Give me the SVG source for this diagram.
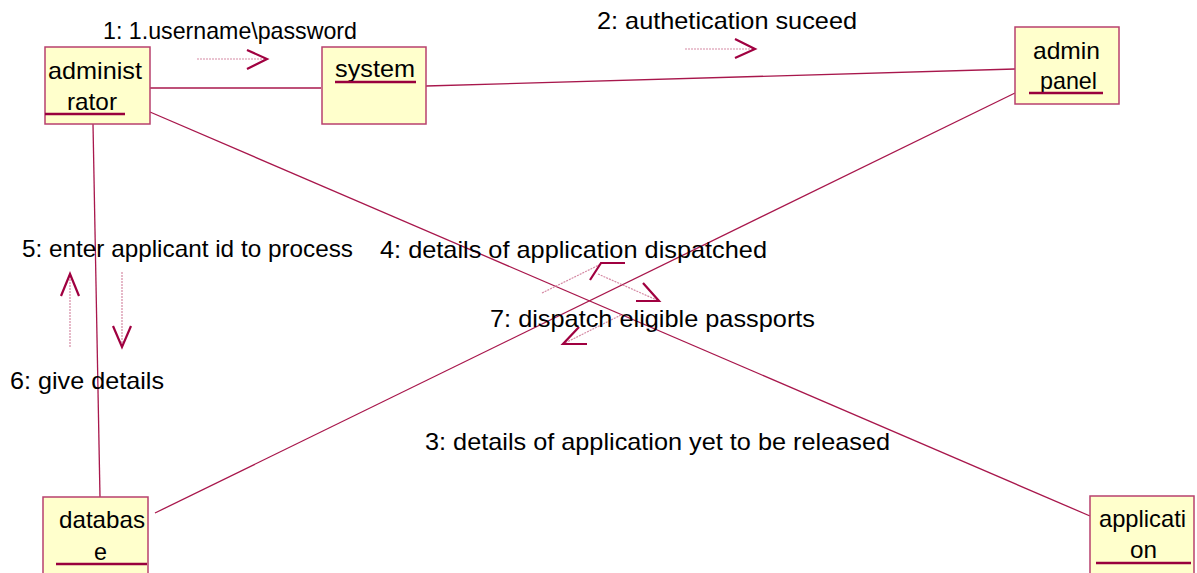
<svg xmlns="http://www.w3.org/2000/svg" width="1197" height="573" viewBox="0 0 1197 573">
<style>
.box{fill:#FFFFCC;stroke:#B8406E;stroke-width:1.5}
.ul{stroke:#99003D;stroke-width:2.5}
.t{font-family:"Liberation Sans",Arial,sans-serif;font-size:24px;fill:#000}
.link{stroke:#A8174C;stroke-width:1.3;fill:none}
.shaft{stroke:#D58AA4;stroke-width:1.2;stroke-dasharray:2 1;fill:none}
.head{stroke:#A00040;stroke-width:2.2;fill:none}
</style>
<rect width="1197" height="573" fill="#fff"/>
<g id="connectors">
<line class="link" x1="150" y1="88" x2="321" y2="88"/>
<line class="link" x1="426" y1="86" x2="1015" y2="69"/>
<line class="link" x1="93" y1="124" x2="100" y2="497"/>
<line class="link" x1="150" y1="112" x2="1090" y2="516"/>
<line class="link" x1="1015" y1="93" x2="155" y2="513"/>
</g>
<g id="messages">
<line class="shaft" x1="197" y1="59" x2="267" y2="59"/>
<polyline class="head" points="247,50 267,59 247,69"/>
<text class="t" x="103" y="39" textLength="254" lengthAdjust="spacingAndGlyphs">1: 1.username\password</text>
<line class="shaft" x1="685" y1="49" x2="755" y2="49"/>
<polyline class="head" points="735,39 755,49 735,58"/>
<text class="t" x="597" y="29" textLength="260" lengthAdjust="spacingAndGlyphs">2: authetication suceed</text>
<text class="t" x="425" y="450" textLength="465" lengthAdjust="spacingAndGlyphs">3: details of application yet to be released</text>
<line class="shaft" x1="542" y1="293" x2="601" y2="264"/>
<polyline class="head" points="625,263 601,263 590,280"/>
<line class="shaft" x1="598" y1="274" x2="659" y2="301"/>
<polyline class="head" points="643,283 659,301 636,301"/>
<text class="t" x="380" y="258" textLength="387" lengthAdjust="spacingAndGlyphs">4: details of application dispatched</text>
<line class="shaft" x1="621" y1="315" x2="563" y2="344"/>
<polyline class="head" points="579,327 563,344 587,344"/>
<text class="t" x="490" y="327" textLength="325" lengthAdjust="spacingAndGlyphs">7: dispatch eligible passports</text>
<line class="shaft" x1="70" y1="347" x2="70" y2="275"/>
<polyline class="head" points="61,296 70,274 79,296"/>
<line class="shaft" x1="122" y1="272" x2="122" y2="347"/>
<polyline class="head" points="113,326 122,347 131,326"/>
<text class="t" x="22" y="257" textLength="331" lengthAdjust="spacingAndGlyphs">5: enter applicant id to process</text>
<text class="t" x="10" y="389" textLength="154" lengthAdjust="spacingAndGlyphs">6: give details</text>
</g>
<g id="administrator">
<rect class="box" x="45" y="47" width="105" height="77"/>
<text class="t" x="48" y="79" textLength="94" lengthAdjust="spacingAndGlyphs">administ</text>
<text class="t" x="67" y="110" textLength="50" lengthAdjust="spacingAndGlyphs">rator</text>
<line class="ul" x1="45" y1="114" x2="125" y2="114"/>
</g>
<g id="system">
<rect class="box" x="322" y="47" width="104" height="77"/>
<text class="t" x="335" y="77" textLength="80" lengthAdjust="spacingAndGlyphs">system</text>
<line class="ul" x1="335" y1="82" x2="416" y2="82"/>
</g>
<g id="admin-panel">
<rect class="box" x="1015" y="27" width="104" height="77"/>
<text class="t" x="1033" y="59" textLength="67" lengthAdjust="spacingAndGlyphs">admin</text>
<text class="t" x="1040" y="89" textLength="57" lengthAdjust="spacingAndGlyphs">panel</text>
<line class="ul" x1="1029" y1="93" x2="1103" y2="93"/>
</g>
<g id="database">
<rect class="box" x="43" y="497" width="105" height="90"/>
<text class="t" x="59" y="528" textLength="86" lengthAdjust="spacingAndGlyphs">databas</text>
<text class="t" x="94" y="560" textLength="13" lengthAdjust="spacingAndGlyphs">e</text>
<line class="ul" x1="56" y1="564" x2="147" y2="564"/>
</g>
<g id="application">
<rect class="box" x="1090" y="496" width="104" height="90"/>
<text class="t" x="1099" y="527" textLength="87" lengthAdjust="spacingAndGlyphs">applicati</text>
<text class="t" x="1130" y="558" textLength="27" lengthAdjust="spacingAndGlyphs">on</text>
<line class="ul" x1="1096" y1="563" x2="1191" y2="563"/>
</g>
</svg>
